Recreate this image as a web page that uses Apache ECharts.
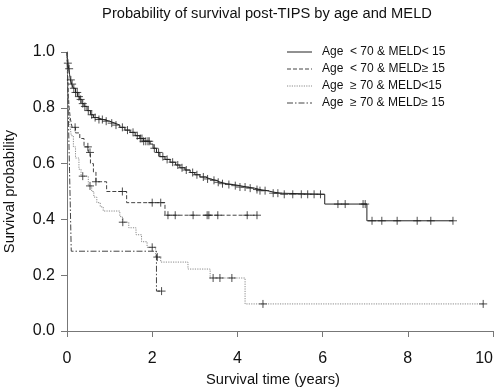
<!DOCTYPE html>
<html>
<head>
<meta charset="utf-8">
<script src="https://cdn.jsdelivr.net/npm/echarts@6/dist/echarts.min.js"></script>
<style>html,body{margin:0;padding:0;background:#fff;}#c{width:497px;height:392px;}</style>
</head>
<body>
<div id="c"></div>
<script>
// ---- data ----
var titleText = 'Probability of survival post-TIPS by age and MELD';
var seriesNames = ['Age  < 70 & MELD< 15', 'Age  < 70 & MELD\u2265 15', 'Age  \u2265 70 & MELD<15', 'Age  \u2265 70 & MELD\u2265 15'];
var xTicks = [0, 2, 4, 6, 8, 10];
var yTicks = [0, 0.2, 0.4, 0.6, 0.8, 1.0];

// Kaplan-Meier steps [time (years), survival]
var km1 = [[0,1],[0.01,0.98],[0.02,0.96],[0.04,0.94],[0.06,0.92],[0.08,0.90],[0.11,0.885],[0.15,0.87],[0.2,0.855],[0.25,0.84],[0.3,0.83],[0.35,0.815],[0.4,0.805],[0.47,0.79],[0.55,0.775],[0.62,0.765],[0.7,0.758],[0.85,0.752],[1.0,0.745],[1.12,0.738],[1.24,0.73],[1.36,0.72],[1.48,0.712],[1.6,0.70],[1.71,0.69],[1.8,0.68],[1.95,0.67],[2.02,0.655],[2.1,0.64],[2.18,0.625],[2.3,0.615],[2.42,0.605],[2.55,0.595],[2.65,0.585],[2.77,0.577],[2.89,0.568],[3.0,0.56],[3.12,0.552],[3.25,0.545],[3.36,0.54],[3.5,0.533],[3.6,0.528],[3.75,0.525],[3.9,0.521],[4.06,0.516],[4.22,0.512],[4.4,0.507],[4.53,0.503],[4.7,0.498],[4.84,0.494],[5.0,0.49],[6.05,0.455],[7.04,0.395],[9.06,0.395]];
var km2 = [[0,1],[0.01,0.95],[0.02,0.9],[0.03,0.85],[0.05,0.8],[0.08,0.76],[0.12,0.73],[0.2,0.71],[0.3,0.69],[0.4,0.66],[0.5,0.64],[0.55,0.6],[0.62,0.57],[0.68,0.535],[0.93,0.50],[1.4,0.46],[2.3,0.415],[4.46,0.415]];
var km3 = [[0,1],[0.01,0.93],[0.02,0.87],[0.04,0.8],[0.06,0.75],[0.1,0.7],[0.15,0.66],[0.2,0.62],[0.28,0.58],[0.33,0.555],[0.5,0.52],[0.58,0.50],[0.63,0.48],[0.7,0.46],[0.78,0.445],[0.85,0.43],[1.24,0.41],[1.3,0.39],[1.45,0.37],[1.62,0.345],[1.75,0.32],[1.88,0.30],[2.08,0.265],[2.2,0.247],[2.84,0.222],[3.36,0.19],[4.18,0.097],[9.77,0.097]];
var km4 = [[0,1],[0.02,0.857],[0.04,0.714],[0.06,0.571],[0.08,0.429],[0.1,0.286],[2.1,0.143],[2.22,0.143]];

// censoring times (years)
var cens1 = [0.02,0.05,0.09,0.12,0.16,0.2,0.24,0.28,0.32,0.37,0.42,0.5,0.58,0.66,0.75,0.83,0.92,1.05,1.15,1.3,1.42,1.55,1.65,1.72,1.76,1.8,1.85,1.9,1.93,2.05,2.15,2.25,2.35,2.48,2.6,2.7,2.8,2.95,3.05,3.2,3.3,3.45,3.55,3.65,3.8,3.95,4.06,4.18,4.3,4.46,4.53,4.65,4.84,4.95,5.1,5.3,5.5,5.65,5.8,5.95,6.36,6.53,6.95,7.0,7.16,7.39,7.75,8.22,8.54,9.06];
var cens2 = [0.19,0.49,0.54,0.68,1.3,2.0,2.2,2.37,2.54,2.96,3.29,3.33,3.54,4.23,4.46];
var cens3 = [0.37,0.54,1.31,2.0,2.12,3.43,3.59,3.87,4.6,9.77];
var cens4 = [2.22];

// ---- helpers ----
function survAt(km, t) {
  var s = km[0][1];
  for (var i = 0; i < km.length; i++) { if (km[i][0] <= t) s = km[i][1]; }
  return s;
}
function censPts(km, times) { return times.map(function (t) { return [t, survAt(km, t)]; }); }

var FONT = '"Liberation Sans", Arial, sans-serif';
var lineCols = ['#222', '#444', '#8a8a8a', '#444'];
var lineTypes = ['solid', [4, 2], [1.2, 1.2], [6, 2, 1.5, 2]];
var kms = [km1, km2, km3, km4];
var cens = [cens1, cens2, cens3, cens4];

var series = [];
kms.forEach(function (km, i) {
  series.push({
    name: seriesNames[i], type: 'line', step: 'end', data: km,
    symbol: 'none', silent: true, animation: false,
    lineStyle: { color: lineCols[i], width: 1, type: lineTypes[i] },
    itemStyle: { color: lineCols[i] }, z: 3
  });
});
cens.forEach(function (c, i) {
  series.push({
    name: 'cens' + i, type: 'scatter', data: censPts(kms[i], c),
    symbol: 'path://M0,5L10,5M5,0L5,10', symbolSize: 8, silent: true, animation: false,
    itemStyle: { color: 'none', borderColor: '#222', borderWidth: 1 }, z: 4
  });
});

// legend drawn as graphic elements (line sample + text)
var legendGraphics = [];
seriesNames.forEach(function (nm, i) {
  var y = 52 + i * 17;
  legendGraphics.push({
    type: 'line', shape: { x1: 287, y1: y, x2: 312, y2: y },
    style: { stroke: lineCols[i], lineWidth: 1, lineDash: lineTypes[i] === 'solid' ? null : lineTypes[i] }
  });
  legendGraphics.push({
    type: 'text', x: 322, y: y,
    style: { text: nm, font: '12px ' + FONT, fill: '#111', textVerticalAlign: 'middle', verticalAlign: 'middle' }
  });
});

var chart = echarts.init(document.getElementById('c'), null, { renderer: 'canvas' });
chart.setOption({
  backgroundColor: '#fff',
  animation: false,
  title: {
    text: titleText, left: 262, top: 1, textAlign: 'center',
    textStyle: { fontFamily: FONT, fontSize: 14.7, fontWeight: 'normal', color: '#111' }
  },
  graphic: legendGraphics,
  grid: { left: 67, right: 4, top: 52, bottom: 61, containLabel: false, outerBoundsMode: 'none' },
  xAxis: {
    type: 'value', min: 0, max: 10, interval: 2, offset: 12,
    name: 'Survival time (years)', nameLocation: 'middle', nameGap: 29,
    nameTextStyle: { fontFamily: FONT, fontSize: 14.7, color: '#111', padding: [0, 14, 0, 0] },
    axisLine: { show: true, lineStyle: { color: '#777', width: 1 } },
    axisTick: { show: true, length: 6, lineStyle: { color: '#777' } },
    axisLabel: { margin: 8, fontFamily: FONT, fontSize: 16, color: '#111', alignMaxLabel: 'right',
      formatter: function (v) { return xTicks.indexOf(v) >= 0 ? String(v) : ''; } },
    splitLine: { show: false }
  },
  yAxis: {
    type: 'value', min: 0, max: 1, interval: 0.2,
    name: 'Survival probability', nameLocation: 'middle', nameGap: 50, nameRotate: 90,
    nameTextStyle: { fontFamily: FONT, fontSize: 14.7, color: '#111' },
    axisLine: { show: true, lineStyle: { color: '#777', width: 1 } },
    axisTick: { show: true, length: 6, lineStyle: { color: '#777' } },
    axisLabel: { margin: 12, fontFamily: FONT, fontSize: 16, color: '#111',
      formatter: function (v) { return v.toFixed(1); } },
    splitLine: { show: false }
  },
  series: series
});
</script>
</body>
</html>
